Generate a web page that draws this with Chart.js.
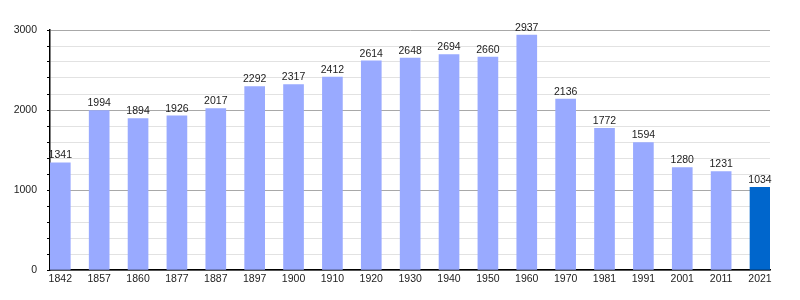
<!DOCTYPE html>
<html>
<head>
<meta charset="utf-8">
<script src="https://cdn.jsdelivr.net/npm/chart.js@4"></script>
<style>
  body { margin: 0; background: #fff; }
  #wrap { width: 800px; height: 300px; }
</style>
</head>
<body>
<div id="wrap"><canvas id="popChart"></canvas></div>
<script>
const years = ['1842', '1857', '1860', '1877', '1887', '1897', '1900', '1910', '1920', '1930',
    '1940', '1950', '1960', '1970', '1981', '1991', '2001', '2011', '2021'];
const population = [1341, 1994, 1894, 1926, 2017, 2292, 2317, 2412, 2614, 2648,
    2694, 2660, 2937, 2136, 1772, 1594, 1280, 1231, 1034];
const yTicks = [0, 1000, 2000, 3000];

const barColors = years.map((_, i) => i === years.length - 1 ? '#0066cc' : '#99aaff');

// value written above every bar
const valueLabels = {
    id: 'valueLabels',
    afterDatasetsDraw(chart) {
        const ctx = chart.ctx;
        const meta = chart.getDatasetMeta(0);
        ctx.save();
        ctx.font = '10.5px "Liberation Sans", Arial, sans-serif';
        ctx.fillStyle = '#222';
        ctx.textAlign = 'center';
        ctx.textBaseline = 'bottom';
        meta.data.forEach((bar, i) => {
            ctx.fillText(population[i], bar.x, bar.y - 2);
        });
        ctx.restore();
    }
};

Chart.defaults.font.family = '"Liberation Sans", Arial, sans-serif';
Chart.defaults.font.size = 10.5;
Chart.defaults.color = '#222';

const popChart = new Chart(document.getElementById('popChart'), {
    type: 'bar',
    data: {
        datasets: [{
            data: population.map((v, i) => ({ x: i, y: v })),
            backgroundColor: barColors,
            barThickness: 20,
        }]
    },
    options: {
        responsive: true,
        maintainAspectRatio: false,
        animation: false,
        layout: { padding: { top: 30, right: 30, left: 0, bottom: 0 } },
        plugins: {
            legend: { display: false },
            tooltip: { enabled: false },
        },
        scales: {
            x: {
                type: 'linear',
                offset: false,
                min: -0.265,
                max: 18.257,
                afterBuildTicks: axis => { axis.ticks = years.map((_, i) => ({ value: i })); },
                afterFit: s => { s.height = 30; },
                grid: { display: true, offset: false, drawOnChartArea: false, drawTicks: false },
                border: { display: true, color: '#000', width: 1.5 },
                ticks: {
                    autoSkip: false,
                    maxRotation: 0,
                    padding: 3,
                    callback: v => years[v],
                },
            },
            y: {
                min: 0,
                max: 3000,
                afterFit: s => { s.width = 50; },
                grid: {
                    tickLength: 3,
                    color: c => c.tick && c.tick.value % 1000 === 0 ? '#a8a8a8' : '#e2e2e2',
                    tickColor: '#000',
                },
                border: { display: true, color: '#000', width: 1.5 },
                ticks: {
                    stepSize: 200,
                    autoSkip: false,
                    padding: 10,
                    callback: v => yTicks.includes(v) ? String(v) : '',
                },
            }
        }
    },
    plugins: [valueLabels]
});
</script>
</body>
</html>
